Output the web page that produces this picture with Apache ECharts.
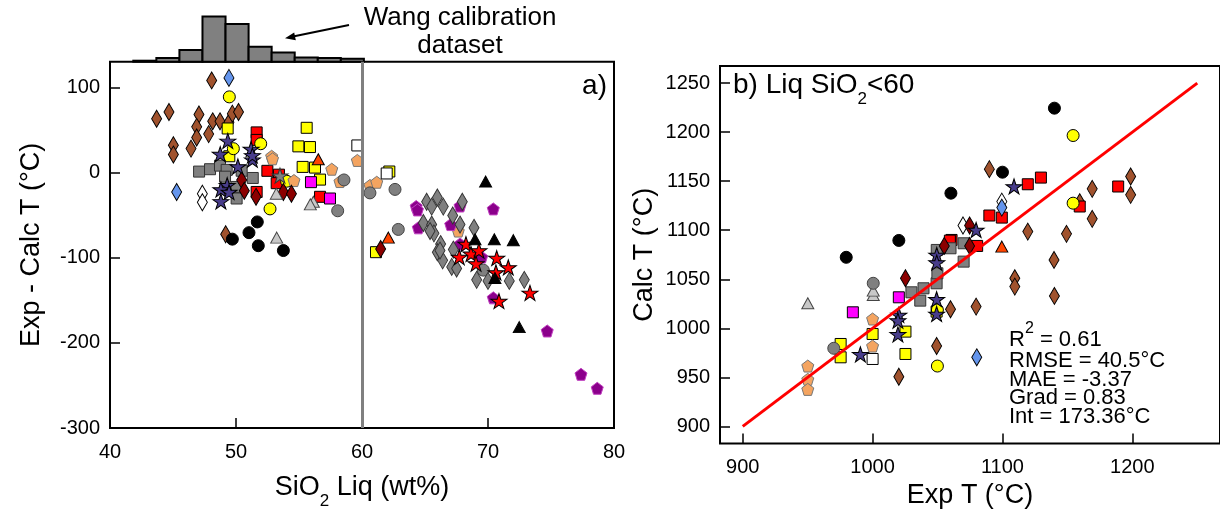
<!DOCTYPE html>
<html><head><meta charset="utf-8">
<script src="https://cdn.jsdelivr.net/npm/echarts@6/dist/echarts.min.js"></script>
<style>html,body{margin:0;padding:0;background:#fff}#c{width:1220px;height:515px}</style>
</head><body><div id="c"></div>
<script>
// ---------------- DATA ----------------
// Histogram of Wang calibration dataset (SiO2 liq wt%)
const histEdges = [41.85, 43.68, 45.51, 47.34, 49.17, 51.0, 52.83, 54.66, 56.49, 58.32, 60.15];
const histCounts = [1, 3.7, 11.7, 45.3, 37.7, 15, 9.3, 4.3, 3.7, 3];

// Panel a) : [SiO2 liq wt%, Exp - Calc T]
const siennaDiaL = [[48.07,108],[43.7,63],[44.68,71],[47.06,68],[48.15,60],[48.73,60],[49.44,59],[49.71,69],[50.2,71],[46.88,53.5],[46.88,41],[47.83,45],[45.03,32],[45.03,21],[46.43,28],[49.18,-72.6]];
const blueDiaL = [[49.44,111],[45.29,-23]];
const whiteDiaL = [[47.33,-25],[47.33,-35]];
const darkRedDiaL = [[50.45,-9],[50.66,-21.5],[51.59,-28.6],[53.76,-23],[54.4,-25],[61.48,-89.8]];
const grayDiaL = [[65.13,-34.4],[65.53,-40.1],[65.98,-29.4],[66.45,-40.1],[67.96,-34.4],[64.87,-59.3],[65.53,-61.2],[65.71,-71.5],[67.2,-50.5],[67.78,-61.2],[66.24,-84.1],[65.98,-93.7],[66.4,-103.2],[67.12,-110.9],[67.51,-112.8],[67.25,-90.6],[68.89,-65],[69.1,-126.1],[70.0,-127.3],[71.69,-127.3],[72.88,-126.1],[65.4,-68.8],[66.19,-91.7]];
const yellowCircL = [[49.47,88.7],[49.79,27.9],[51.96,33.7],[52.7,-42.8],[54.02,-10.3]];
const blackCircL = [[51.69,-58.1],[51.03,-70.7],[49.71,-78.3],[51.77,-86],[53.76,-91.7]];
const grayCircL = [[58.57,-8.8],[58.07,-45],[60.63,-24],[62.62,-19.9],[62.88,-66.9],[69.63,-114.7]];
const slateStarL = [[49.35,37],[48.75,21.5],[51.2,27.5],[51.3,15],[51.3,20],[50.15,7],[49.3,-15],[48.8,-20],[49.45,-23],[48.8,-34]];
const redStarL = [[68.25,-84.1],[67.72,-99.4],[68.65,-95.6],[69.28,-91.7],[69.05,-107],[70.69,-100.5],[71.61,-111.6],[70.63,-117.4],[73.33,-141.4],[70.87,-151]];
const grayStarL = [[53.49,-3.8]];
const graySqL = [[47.07,1],[47.94,3.8],[48.73,8],[49.26,3],[49.13,-5],[50.05,-17],[50.05,-30.6],[51.33,-6.5],[50.45,2]];
const redSqL = [[51.64,47],[51.64,38.2],[52.49,1.9],[53.41,-2.6],[53.23,-12.6],[51.64,-22.9],[56.67,-28.6]];
const yellowSqL = [[49.34,51.6],[49.47,19],[55.61,52.4],[54.95,30.6],[55.87,29.8],[55.29,6.5],[56.27,5.7],[56.67,-8.4],[61.11,-93.6],[62.17,1.1]];
const magentaSqL = [[55.95,-11.4],[57.46,-30.6]];
const whiteSqL = [[59.63,31.7],[61.96,-1.2]];
const sandyPentL = [[52.83,19],[52.9,16],[54.6,-9.5],[57.6,3.8],[58.25,-10.7],[59.63,14.1],[60.63,-15.3],[61.17,-11.5],[67.64,-68.8]];
const purplePentL = [[64.3,-40],[64.4,-44],[67.78,-39.4],[70.42,-42.8],[64.47,-65],[67.04,-61.2],[67.78,-84.1],[69.5,-99.4],[70.42,-147.2],[74.7,-186.1],[77.38,-237],[78.67,-253.4]];
const lgrayTriL = [[53.23,-76.5],[56.14,-34.4],[55.9,-37.5],[53.2,-24.9]];
const orangeTriL = [[56.53,15.5],[62.09,-76.5]];
const blackTriL = [[69.81,-10.7],[70.5,-78.4],[72.01,-79.5],[68.97,-78.4],[70.55,-124],[72.48,-181.6]];

// Panel b) Liq SiO2<60 : [Exp T, Calc T]
const siennaDiaR = [[1140,1033],[1089.9,1162.3],[1198.7,1154.8],[1198.7,1136.1],[1169.1,1142.2],[1169.1,1111.6],[1159.5,1128.6],[1149.3,1096.3],[1119.5,1098.6],[1139.7,1069.7],[1109.5,1051],[1109.5,1042.5],[1060,1019.4],[1079.7,1022.1],[1049.3,981.9],[1020.2,950.6]];
const blueDiaR = [[1080.2,970.4],[1099.5,1123.1]];
const whiteDiaR = [[1069.6,1104.8],[1099.5,1129.2]];
const darkRedDiaR = [[1055.2,1084],[1074.7,1084],[1025.3,1051],[1074.7,1104.8]];
const yellowCircR = [[1154.4,1196.6],[1154.4,1127.6],[1049.9,961.5],[1049.9,1018.7]];
const blackCircR = [[1140,1224.5],[1100,1159.2],[1060.3,1137.8],[1020.2,1089.6],[979.7,1072.4]];
const grayCircR = [[1000.5,1045.9],[970.1,979.6]];
const slateStarR = [[1108.9,1144.6],[1079.7,1100.3],[1049.4,1074.8],[1049.4,1067],[1049.3,1029.6],[1049.3,1014.6],[1020.2,1013.6],[1019.5,1007.8],[1019.5,993.8],[990.6,973.4]];
const graySqR = [[1060,1081.6],[1070.1,1086.7],[1070.1,1068],[1049.4,1079.9],[1049.3,1045.9],[1039.2,1040.8],[1029.9,1036.7],[1036.7,1028.2],[1049.9,1056.1]];
const redSqR = [[1119.5,1146.9],[1129.6,1153.7],[1089.9,1115],[1099.5,1112.9],[1159.5,1124.2],[1189.1,1144.6],[1060.8,1090.1],[1080.5,1084],[1059.5,1089.4]];
const yellowSqR = [[1025.3,996.6],[1025.3,973.8],[975.4,984],[975.4,970.4],[1000,994.2],[1049.3,1017]];
const magentaSqR = [[1020.2,1031.6],[984.8,1016.3]];
const whiteSqR = [[1000,968.7]];
const sandyPentR = [[1000,1009.5],[1000,981.9],[950.1,961.5],[950.1,947.9],[950.1,937.7]];
const lgrayTriR = [[1000.5,1034],[1000.5,1038.4],[950.1,1025.5]];
const orangeTriR = [[1099.5,1083.3]];
const oneToOne = [[900,900],[1250,1250]];

// tick values
const xTicksA = [40,50,60,70,80];
const yTicksA = [-300,-200,-100,0,100];
const xTicksB = [900,1000,1100,1200];
const yTicksB = [900,950,1000,1050,1100,1150,1200,1250];

// stats text
const statLines = ['RMSE = 40.5°C','MAE = -3.37','Grad = 0.83','Int = 173.36°C'];
const r2Value = '= 0.61';

// ---------------- STYLES ----------------
const FONT = '"Liberation Sans", Arial, Helvetica, sans-serif';
const STAR = 'path://M50,2 L61.2,36.3 L97.6,36.3 L68.2,57.6 L79.4,92 L50,70.8 L20.6,92 L31.8,57.6 L2.4,36.3 L38.8,36.3 Z';
const PENT = 'path://M50,2 L97.6,36.5 L79.4,92.5 L20.6,92.5 L2.4,36.5 Z';
const DIA = [10,17];
const ST = {
  siennaDia:{symbol:'diamond',size:DIA,fill:'#A0522D',edge:'#000'},
  yellowSq:{symbol:'rect',size:11,fill:'#FFFF00',edge:'#000'},
  redSq:{symbol:'rect',size:11,fill:'#FF0000',edge:'#000'},
  graySq:{symbol:'rect',size:11,fill:'#808080',edge:'#333'},
  yellowCirc:{symbol:'circle',size:12,fill:'#FFFF00',edge:'#000'},
  sandyPent:{symbol:PENT,size:[12,12],fill:'#F4A460',edge:'#777'},
  whiteSq:{symbol:'rect',size:11,fill:'#FFFFFF',edge:'#000'},
  whiteDia:{symbol:'diamond',size:DIA,fill:'#FFFFFF',edge:'#000'},
  blueDia:{symbol:'diamond',size:DIA,fill:'#6495ED',edge:'#000'},
  darkRedDia:{symbol:'diamond',size:DIA,fill:'#8B0000',edge:'#000'},
  slateStar:{symbol:STAR,size:[16,15],fill:'#483D8B',edge:'#000'},
  blackCirc:{symbol:'circle',size:12,fill:'#000000',edge:'#000'},
  lgrayTri:{symbol:'triangle',size:[12,11],fill:'#C8C8C8',edge:'#444'},
  orangeTri:{symbol:'triangle',size:[12,11],fill:'#FF4500',edge:'#000'},
  magentaSq:{symbol:'rect',size:11,fill:'#FF00FF',edge:'#000'},
  grayCirc:{symbol:'circle',size:12,fill:'#808080',edge:'#444'},
  grayStar:{symbol:STAR,size:[16,15],fill:'#808080',edge:'#333'},
  purplePent:{symbol:PENT,size:[12,12],fill:'#8B008B',edge:'#C040C0'},
  grayDia:{symbol:'diamond',size:DIA,fill:'#808080',edge:'#333'},
  redStar:{symbol:STAR,size:[16,15],fill:'#FF0000',edge:'#000'},
  blackTri:{symbol:'triangle',size:[12,11],fill:'#000000',edge:'#000'}
};
const groupsL = [['siennaDia',siennaDiaL],['yellowSq',yellowSqL],['redSq',redSqL],['graySq',graySqL],['yellowCirc',yellowCircL],['sandyPent',sandyPentL],['whiteSq',whiteSqL],['whiteDia',whiteDiaL],['blueDia',blueDiaL],['darkRedDia',darkRedDiaL],['slateStar',slateStarL],['blackCirc',blackCircL],['lgrayTri',lgrayTriL],['orangeTri',orangeTriL],['magentaSq',magentaSqL],['grayCirc',grayCircL],['grayStar',grayStarL],['purplePent',purplePentL],['grayDia',grayDiaL],['redStar',redStarL],['blackTri',blackTriL]];
const groupsR = [['siennaDia',siennaDiaR],['yellowSq',yellowSqR],['redSq',redSqR],['graySq',graySqR],['yellowCirc',yellowCircR],['sandyPent',sandyPentR],['whiteSq',whiteSqR],['whiteDia',whiteDiaR],['blueDia',blueDiaR],['darkRedDia',darkRedDiaR],['slateStar',slateStarR],['blackCirc',blackCircR],['lgrayTri',lgrayTriR],['orangeTri',orangeTriR],['magentaSq',magentaSqR],['grayCirc',grayCircR]];

function scatter(key, data, gi) {
  const s = ST[key];
  return {type:'scatter', name:key+gi, xAxisIndex:gi, yAxisIndex:gi, data:data,
    symbol:s.symbol, symbolSize:s.size, silent:true, clip:true,
    itemStyle:{color:s.fill, borderColor:s.edge, borderWidth:1, opacity:1}, z:2};
}

const plainNum = v => String(v);
function valAxis(gi, min, max, ticks, margin, extra) {
  return Object.assign({type:'value', gridIndex:gi, min:min, max:max,
    axisLine:{show:false, onZero:false}, splitLine:{show:false},
    axisTick:{show:true, inside:true, length:10, customValues:ticks, lineStyle:{color:'#000', width:1.5}},
    axisLabel:{show:true, customValues:ticks, formatter:plainNum, color:'#000', fontSize:20, fontFamily:FONT, margin:margin}
  }, extra || {});
}
const nameStyle = {color:'#000', fontSize:27, fontFamily:FONT};

const series = [];
groupsL.forEach(g => series.push(scatter(g[0], g[1], 0)));
groupsR.forEach(g => series.push(scatter(g[0], g[1], 1)));
// vertical line at SiO2 = 60
series[0].markLine = {silent:true, symbol:'none', label:{show:false}, animation:false,
  lineStyle:{color:'#808080', width:3, type:'solid'}, data:[{xAxis:60}]};
// 1:1 line
series.push({type:'line', xAxisIndex:1, yAxisIndex:1, data:oneToOne, showSymbol:false, symbol:'none',
  lineStyle:{color:'#FF0000', width:3}, silent:true, z:5});
// histogram
series.push({type:'custom', xAxisIndex:2, yAxisIndex:2, silent:true,
  data: histCounts.map((c,i)=>[histEdges[i], histEdges[i+1], c]),
  renderItem:(params, api)=>{
    const p0 = api.coord([api.value(0), 0]);
    const p1 = api.coord([api.value(1), api.value(2)]);
    return {type:'rect', shape:{x:p0[0], y:p1[1], width:p1[0]-p0[0], height:p0[1]-p1[1]},
      style:{fill:'#808080', stroke:'#000', lineWidth:2}};
  }});

const option = {
  animation:false,
  backgroundColor:'#fff',
  grid:[
    {left:110, right:606, top:61.7, bottom:79, show:true, borderColor:'#000', borderWidth:2, backgroundColor:'transparent'},
    {left:720, right:-7, top:66, bottom:71.5, show:true, borderColor:'#000', borderWidth:2, backgroundColor:'transparent'},
    {left:110, right:606, top:16.4, bottom:453.3, show:false}
  ],
  xAxis:[
    valAxis(0, 40, 80, xTicksA, 14, {name:'{a|SiO}{s|2}{a| Liq (wt%)}', nameLocation:'middle', nameGap:46,
      nameTextStyle:{rich:{a:{fontSize:27, fontFamily:FONT, color:'#000', lineHeight:27, verticalAlign:'top'},
        s:{fontSize:17, fontFamily:FONT, color:'#000', lineHeight:17, padding:[19,0,0,0], verticalAlign:'top'}}}}),
    valAxis(1, 882.5, 1267.5, xTicksB, 14, {name:'Exp T (°C)', nameLocation:'middle', nameGap:37, nameTextStyle:nameStyle}),
    {type:'value', gridIndex:2, min:40, max:80, show:false}
  ],
  yAxis:[
    valAxis(0, -300, 130, yTicksA, 10, {name:'Exp - Calc T (°C)', nameLocation:'middle', nameGap:65, nameTextStyle:nameStyle}),
    valAxis(1, 882.5, 1267.5, yTicksB, 10, {name:'Calc T (°C)', nameLocation:'middle', nameGap:62, nameTextStyle:nameStyle}),
    {type:'value', gridIndex:2, min:0, max:45.3, show:false}
  ],
  series: series,
  graphic:[
    {type:'text', x:460, y:18, silent:true, style:{text:'Wang calibration', font:'26px '+FONT, fill:'#000', align:'center', verticalAlign:'middle'}},
    {type:'text', x:460, y:46, silent:true, style:{text:'dataset', font:'26px '+FONT, fill:'#000', align:'center', verticalAlign:'middle'}},
    {type:'line', silent:true, shape:{x1:349, y1:25, x2:293, y2:36.5}, style:{stroke:'#000', lineWidth:2}},
    {type:'polygon', silent:true, shape:{points:[[285,38.3],[295.8,40.2],[294.2,32.4]]}, style:{fill:'#000'}},
    {type:'text', x:607, y:86, silent:true, style:{text:'a)', font:'28px '+FONT, fill:'#000', align:'right', verticalAlign:'middle'}},
    {type:'text', x:733, y:71, silent:true, style:{text:'{m|b) Liq SiO}{s|2}{m|<60}', align:'left', verticalAlign:'top',
      rich:{m:{fontSize:28, fontFamily:FONT, fill:'#000', lineHeight:28, verticalAlign:'top'},
            s:{fontSize:17, fontFamily:FONT, fill:'#000', lineHeight:17, padding:[20,0,0,0], verticalAlign:'top'}}}},
    {type:'text', x:1009, y:321, silent:true, style:{text:'{m|R}{p|2}{m| '+r2Value+'}', align:'left', verticalAlign:'top',
      rich:{m:{fontSize:22, fontFamily:FONT, fill:'#000', lineHeight:22, padding:[8,0,0,0], verticalAlign:'top'},
            p:{fontSize:16, fontFamily:FONT, fill:'#000', lineHeight:16, verticalAlign:'top'}}}},
    ...statLines.map((t,i)=>({type:'text', x:1009, y:361+i*18.6, silent:true,
      style:{text:t, font:'22px '+FONT, fill:'#000', align:'left', verticalAlign:'middle'}}))
  ]
};
const chart = echarts.init(document.getElementById('c'), null, {renderer:'canvas'});
chart.setOption(option);
</script>
</body></html>
